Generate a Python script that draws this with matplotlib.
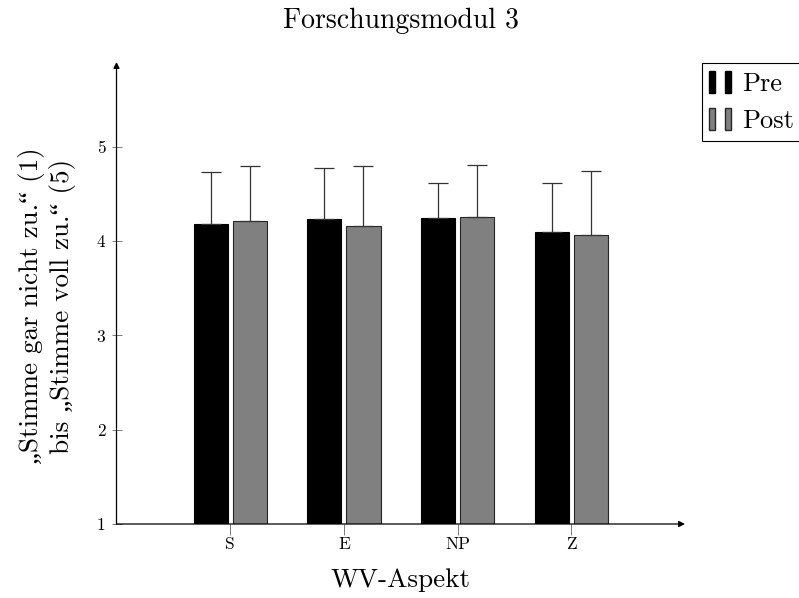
import numpy as np
import matplotlib
matplotlib.use("Agg")
import matplotlib.pyplot as plt
from matplotlib.patches import Patch
from matplotlib.legend_handler import HandlerTuple

plt.rcParams['font.family'] = ['cmr10', 'Liberation Serif']
plt.rcParams['axes.formatter.use_mathtext'] = True

aspekte = ["S", "E", "NP", "Z"]
pre_mean = [4.18, 4.24, 4.25, 4.10]
pre_sd = [0.55, 0.54, 0.37, 0.52]
post_mean = [4.21, 4.16, 4.26, 4.07]
post_sd = [0.59, 0.64, 0.55, 0.67]
yticks = [1, 2, 3, 4, 5]

fig = plt.figure(figsize=(7.99, 5.98), dpi=100)
ax = fig.add_axes([116.5/799, 1-524/598, 568.5/799, (524-62)/598])

x = np.arange(len(aspekte))
w = 0.30
off = 0.172
err_kw = dict(ecolor="#333333", elinewidth=0.9, capsize=7, capthick=0.9)
ax.bar(x - off, np.array(pre_mean) - 1, w, bottom=1, color="black", edgecolor="black",
       linewidth=0.8, yerr=[np.zeros(4), pre_sd], error_kw=err_kw)
ax.bar(x + off, np.array(post_mean) - 1, w, bottom=1, color="#808080", edgecolor="#262626",
       linewidth=0.8, yerr=[np.zeros(4), post_sd], error_kw=err_kw)

ax.set_xlim(-1, 4)
ax.set_ylim(1, 5.9)
ax.set_xticks(x)
ax.set_xticklabels(aspekte, fontsize=12.5)
ax.set_yticks(yticks)
ax.set_yticklabels([str(t) for t in yticks], fontsize=12.5)
ax.tick_params(axis="x", direction="out", length=8, width=0.6, color="#666666", pad=1)
ax.tick_params(axis="y", direction="inout", length=7, width=0.6, color="#666666", pad=4.5)

for s in ax.spines.values():
    s.set_visible(False)
ax.annotate("", xy=(1, 0), xytext=(0, 0), xycoords="axes fraction",
            arrowprops=dict(arrowstyle="-|>", lw=0.9, color="black", mutation_scale=9, shrinkA=0, shrinkB=0))
ax.annotate("", xy=(0, 1), xytext=(0, 0), xycoords="axes fraction",
            arrowprops=dict(arrowstyle="-|>", lw=0.9, color="black", mutation_scale=9, shrinkA=0, shrinkB=0))

ax.set_xlabel("WV-Aspekt", fontsize=19.5)
ax.xaxis.set_label_coords(0.5, -(568 - 524) / 462)
ax.set_ylabel("\u201eStimme gar nicht zu.\u201c (1)\nbis \u201eStimme voll zu.\u201c (5)", fontsize=19.5,
              linespacing=1.22)
ax.yaxis.set_label_coords((76 - 116.5) / 568.5, (524 - 306) / 462)
fig.text(401/799, 1-28/598, "Forschungsmodul 3", fontsize=20, ha="center", va="baseline")

h_pre = (Patch(facecolor="black", edgecolor="black"), Patch(facecolor="black", edgecolor="black"))
h_post = (Patch(facecolor="#808080", edgecolor="#262626"), Patch(facecolor="#808080", edgecolor="#262626"))
leg = fig.legend([h_pre, h_post], ["Pre", "Post"], loc="upper left",
                 bbox_to_anchor=(701.5/799, 1-63/598), bbox_transform=fig.transFigure,
                 handler_map={tuple: HandlerTuple(ndivide=None, pad=0.38)},
                 handlelength=0.83, handleheight=0.9, handletextpad=0.4, borderpad=0.3,
                 borderaxespad=0, labelspacing=0.45, fancybox=False, edgecolor="black",
                 framealpha=1, fontsize=19)
leg.get_frame().set_linewidth(0.8)

plt.savefig("out.png", dpi=100)
